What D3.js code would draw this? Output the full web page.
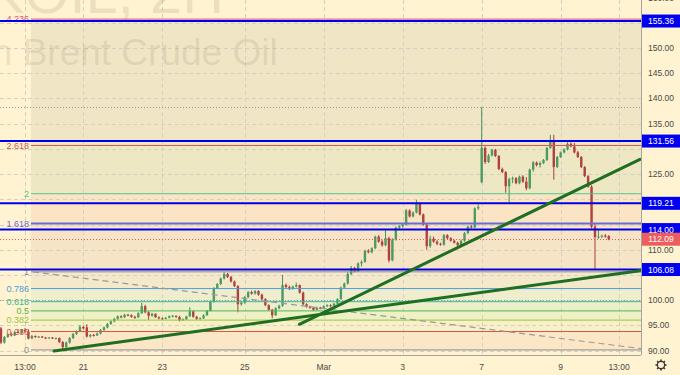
<!DOCTYPE html>
<html><head><meta charset="utf-8">
<script src="https://cdn.jsdelivr.net/npm/d3@7"></script>
<style>
html,body{margin:0;padding:0;background:#fff3d1;}
svg{display:block;font-family:"Liberation Sans",Arial,sans-serif;}
</style></head>
<body><svg id="chart" width="680" height="375"></svg>
<script>
// ---- data ----
const opens=[94.4,91.6,92.7,93.2,93.0,93.7,93.5,94.1,93.8,92.4,
92.9,92.7,92.8,92.6,92.5,92.6,92.4,92.5,91.7,90.7,
91.6,92.5,93.3,93.8,94.7,94.6,92.8,93.1,93.0,93.4,
94.1,94.6,95.3,95.8,96.3,96.8,96.6,97.1,97.0,96.7,
96.6,97.4,98.8,97.6,96.9,97.3,96.6,96.4,96.3,96.5,
96.8,96.9,96.7,96.0,96.2,96.8,97.8,96.7,96.3,96.4,
97.0,97.9,99.7,102.4,103.2,104.3,105.2,104.6,103.7,102.8,
99.2,99.5,100.6,101.6,101.3,101.8,101.1,100.2,99.0,98.1,
97.0,98.4,98.9,103.0,102.6,102.2,102.7,103.0,101.5,99.2,
98.7,98.5,98.1,98.5,98.4,98.8,99.0,98.9,99.3,100.2,
102.5,103.3,105.2,106.4,105.7,107.3,107.6,109.8,109.5,110.3,
112.6,111.6,110.9,112.3,107.9,112.0,114.4,114.7,115.0,117.8,
116.6,117.4,119.2,117.0,115.0,110.7,112.2,111.6,111.2,111.0,
112.9,112.3,111.8,111.4,110.9,111.8,113.3,114.6,114.4,118.2,
123.4,130.2,127.4,128.7,129.8,128.6,126.0,125.4,122.6,124.0,
124.2,123.2,124.5,123.5,122.2,125.9,127.3,126.8,127.2,127.8,
130.2,131.4,126.4,128.4,129.3,129.9,131.0,130.5,129.3,128.4,
126.4,124.6,122.5,114.6,112.5,112.6,112.8,112.7];
const highs=[94.7,92.9,93.4,93.6,93.9,94.2,94.3,94.5,94.2,93.1,
93.0,92.9,92.9,92.7,92.7,92.7,92.6,92.6,91.9,91.8,
92.7,93.5,94.0,95.1,94.9,95.2,93.3,93.3,93.6,94.3,
94.8,95.5,96.0,96.5,97.0,97.0,97.3,97.3,97.2,96.9,
97.6,99.5,99.1,97.8,97.5,97.4,96.8,96.6,96.7,97.0,
97.1,97.0,96.9,96.4,96.9,98.6,98.0,96.9,96.6,97.2,
98.0,99.9,102.6,103.4,104.5,105.62,105.4,104.8,103.9,103.0,
99.8,100.8,101.8,101.9,102.0,102.0,101.3,100.4,99.2,98.3,
98.6,99.1,105.0,103.3,102.9,102.9,103.5,103.1,101.7,99.4,
98.9,98.7,98.7,98.7,99.0,99.2,99.2,99.5,100.4,102.7,
103.5,105.6,106.8,106.6,107.5,107.9,110.0,110.1,110.5,112.8,
112.9,112.0,113.9,112.6,112.3,114.6,114.9,115.3,118.1,118.0,
117.6,119.9,119.4,117.2,115.2,112.8,112.6,111.9,111.4,113.1,
113.1,112.5,112.0,111.6,112.0,113.5,114.8,114.9,118.4,119.0,
138.28,130.5,129.0,130.0,130.0,128.8,126.3,125.6,124.3,124.5,
124.4,124.7,124.8,124.4,126.1,127.6,127.5,127.5,128.0,130.4,
132.8,132.8,128.6,129.5,130.1,131.4,131.3,131.2,129.6,128.6,
126.6,124.8,122.8,115.1,113.9,113.0,113.1,112.9];
const lows=[91.3,91.4,92.5,92.8,92.9,93.4,93.3,93.6,92.2,92.3,
92.5,92.5,92.5,92.3,92.4,92.3,92.2,91.5,90.13,90.5,
91.4,92.3,93.1,93.7,94.2,92.6,92.6,92.8,92.9,93.2,
93.9,94.4,95.1,95.6,96.1,96.4,96.5,96.8,96.5,96.3,
96.5,97.3,97.4,96.1,96.7,96.5,96.2,96.1,96.2,96.4,
96.6,96.5,95.8,95.9,96.1,96.7,96.5,96.1,96.2,96.3,
96.9,97.8,99.5,102.2,103.0,104.1,104.4,103.5,102.6,97.6,
98.9,99.3,100.4,101.1,101.1,100.9,100.0,98.8,97.9,96.4,
96.9,98.2,98.7,102.4,102.0,102.1,102.5,101.3,99.0,98.5,
98.3,97.9,98.0,98.2,98.3,98.6,98.6,98.8,99.2,100.1,
102.3,103.1,105.0,105.5,105.6,106.7,107.4,109.3,109.3,110.1,
111.4,110.6,110.7,107.5,107.7,111.8,114.1,114.4,114.8,116.4,
116.4,117.2,116.8,114.8,110.0,110.4,111.4,110.9,110.8,110.8,
112.1,111.6,111.2,110.6,110.8,111.6,113.1,114.2,114.3,117.9,
123.2,127.0,127.2,128.5,128.4,125.8,125.2,121.3,119.3,123.2,
123.0,123.0,123.3,121.8,122.0,125.5,126.5,126.3,127.0,127.6,
130.0,123.9,126.2,128.2,129.1,129.7,130.3,129.1,128.2,126.2,
124.4,122.3,114.2,106.1,112.2,112.3,112.4,111.9];
const closes=[91.6,92.7,93.2,93.0,93.7,93.5,94.1,93.8,92.4,92.9,
92.7,92.8,92.6,92.5,92.6,92.4,92.5,91.7,90.7,91.6,
92.5,93.3,93.8,94.7,94.4,92.8,93.1,93.0,93.4,94.1,
94.6,95.3,95.8,96.3,96.8,96.6,97.1,97.0,96.7,96.6,
97.4,98.8,97.6,96.9,97.3,96.6,96.4,96.3,96.5,96.8,
96.9,96.7,96.0,96.2,96.8,97.8,96.7,96.3,96.4,97.0,
97.9,99.7,102.4,103.2,104.3,105.2,104.6,103.7,102.8,99.2,
99.5,100.6,101.6,101.3,101.8,101.1,100.2,99.0,98.1,97.0,
98.4,98.9,103.0,102.6,102.2,102.7,103.0,101.5,99.2,98.7,
98.5,98.1,98.5,98.4,98.8,99.0,98.9,99.3,100.2,102.5,
103.3,105.2,106.4,105.7,107.3,107.6,109.8,109.5,110.3,112.6,
111.6,110.9,112.3,107.9,112.0,114.4,114.7,115.0,117.8,116.6,
117.4,119.2,117.0,115.0,110.7,112.2,111.6,111.2,111.0,112.9,
112.3,111.8,111.4,110.9,111.8,113.3,114.6,114.4,118.2,118.5,
130.2,127.4,128.7,129.8,128.6,126.0,125.4,122.6,124.0,124.2,
123.2,124.5,123.5,122.2,125.9,127.3,126.8,127.2,127.8,130.2,
131.4,126.4,128.4,129.3,129.9,131.0,130.5,129.3,128.4,126.4,
124.6,122.5,114.6,112.5,112.6,112.8,112.7,112.09];

const tickLabels=["13:00","21","23","25","Mar","3","7","9","13:00"];
const tickBars=[7,24,47,71,94,117,140,163,180];
const priceTicks=[90,95,100,105,110,115,120,125,130,135,140,145,150,155,160];
const levelPrices=[155.36,131.56,119.21,114.00,106.08];
const lastPrice=112.09;
const highMark=138.28;
const roundMark=100.00;
const fibRatios=[0,0.236,0.382,0.5,0.618,0.786,1,1.618,2,2.618,4.236];
const fibLabels=["0","0.236","0.382","0.5","0.618","0.786","1","1.618","2","2.618","4.236"];
const fibLow=90.13, fibHigh=105.62, fibStartBar=8.75;
const trendA=[[15.45,89.93],[186.1,105.85]];
const trendB=[[86.9,95.22],[186.1,127.94]];
const fibTrend=[[9.33,105.62],[186.4,90.40]];
const wmLine1="UKOIL, 2H";
const wmLine2="CFDs on Brent Crude Oil";

// ---- styles ----
const fibColors=["#8c8c8c","#d9534f","#9cc43e","#55b54a","#2fc08f","#4a9fd8","#8c8c8c","#6b6bd6","#4cc98e","#cf5858","#e0508f"];
const bandFills=["#fbe6c6","#f8f0c6","#eef0c6","#ebefcb","#f0ecce","#f5e9cc","#f5e5c6","#fae4c4","#eee7c3","#f0e5c5"];

const W=680,H=375,plotR=641,plotB=355;
const svg=d3.select("#chart");
const x=d3.scaleLinear().domain([0,186.4]).range([0.96,641]);
const y=d3.scaleLinear().domain([89.13,159.53]).range([plotB,0]);

svg.append("rect").attr("width",W).attr("height",H).attr("fill","#fff3d1");

const plot=svg.append("g");
plot.append("clipPath").attr("id","clip").append("rect").attr("width",plotR).attr("height",plotB);
const g=plot.append("g").attr("clip-path","url(#clip)");

// fib bands
const fibPrices=fibRatios.map(r=>fibLow+r*(fibHigh-fibLow));
const fx0=x(fibStartBar);
for(let k=0;k<fibRatios.length-1;k++){
  g.append("rect").attr("x",fx0).attr("width",plotR-fx0)
   .attr("y",y(fibPrices[k+1])).attr("height",y(fibPrices[k])-y(fibPrices[k+1]))
   .attr("fill",bandFills[k]);
}

// grid
g.selectAll(".hg").data(priceTicks).enter().append("line")
 .attr("x1",0).attr("x2",plotR).attr("y1",d=>Math.round(y(d))+0.5).attr("y2",d=>Math.round(y(d))+0.5)
 .attr("stroke","#d4d0c2").attr("stroke-dasharray","4,3");
g.selectAll(".vg").data(tickBars).enter().append("line")
 .attr("y1",0).attr("y2",plotB).attr("x1",d=>Math.round(x(d))+0.5).attr("x2",d=>Math.round(x(d))+0.5)
 .attr("stroke","#d4d0c2").attr("stroke-dasharray","4,3");

// watermark
g.append("text").attr("x",84).attr("y",13).attr("text-anchor","middle")
 .attr("font-size",58).attr("fill","rgba(110,95,60,0.13)").text(wmLine1);
g.append("text").attr("x",72).attr("y",65).attr("text-anchor","middle")
 .attr("font-size",37).attr("fill","rgba(110,95,60,0.13)").text(wmLine2);

// dotted lines
[[highMark,"#9a9a9a"],[roundMark,"#9a9a9a"]].forEach(([p,c])=>{
  g.append("line").attr("x1",0).attr("x2",plotR).attr("y1",Math.round(y(p))+0.5).attr("y2",Math.round(y(p))+0.5)
   .attr("stroke",c).attr("stroke-dasharray","1,2");
});

// candles
const idx=d3.range(opens.length);
const bw=2.4;
g.selectAll(".wick").data(idx).enter().append("line")
 .attr("x1",i=>x(i)).attr("x2",i=>x(i)).attr("y1",i=>y(highs[i])).attr("y2",i=>y(lows[i]))
 .attr("stroke",i=>closes[i]>=opens[i]?"#4a8f5c":"#a3403c").attr("stroke-width",1);
g.selectAll(".body").data(idx).enter().append("rect")
 .attr("x",i=>x(i)-bw/2).attr("width",bw)
 .attr("y",i=>y(Math.max(opens[i],closes[i])))
 .attr("height",i=>Math.max(1,Math.abs(y(opens[i])-y(closes[i]))))
 .attr("fill",i=>closes[i]>=opens[i]?"#4d9a62":"#b0413e");

// last price dotted
g.append("line").attr("x1",0).attr("x2",plotR).attr("y1",Math.round(y(lastPrice))+0.5).attr("y2",Math.round(y(lastPrice))+0.5)
 .attr("stroke","#ef5350").attr("stroke-dasharray","1,2");

// fib lines + labels
fibPrices.forEach((p,k)=>{
  g.append("line").attr("x1",fx0).attr("x2",plotR).attr("y1",y(p)).attr("y2",y(p))
   .attr("stroke",fibColors[k]).attr("stroke-width",k===7?2:1);
  g.append("text").attr("x",fx0-2).attr("y",y(p)).attr("dy","0.35em").attr("text-anchor","end")
   .attr("font-size",9).attr("fill",fibColors[k]).text(fibLabels[k]);
});
// fib trend dashed
g.append("line").attr("x1",x(fibTrend[0][0])).attr("y1",y(fibTrend[0][1]))
 .attr("x2",x(fibTrend[1][0])).attr("y2",y(fibTrend[1][1]))
 .attr("stroke","#9a9a9a").attr("stroke-width",1.2).attr("stroke-dasharray","6,4");

// blue horizontal levels
g.selectAll(".lvl").data(levelPrices).enter().append("line")
 .attr("x1",0).attr("x2",plotR).attr("y1",d=>y(d)).attr("y2",d=>y(d))
 .attr("stroke","#0000e6").attr("stroke-width",2);

// trend lines
[trendA,trendB].forEach(t=>{
  g.append("line").attr("x1",x(t[0][0])).attr("y1",y(t[0][1])).attr("x2",x(t[1][0])).attr("y2",y(t[1][1]))
   .attr("stroke","#1f6e22").attr("stroke-width",3).attr("stroke-linecap","round");
});

// axes lines
svg.append("line").attr("x1",plotR+0.5).attr("x2",plotR+0.5).attr("y1",0).attr("y2",plotB).attr("stroke","#a6a49a");
svg.append("line").attr("x1",0).attr("x2",plotR).attr("y1",plotB+0.5).attr("y2",plotB+0.5).attr("stroke","#a6a49a");

// price axis labels (those covered by a level box are hidden, as in the reference)
const boxPrices=levelPrices.concat([lastPrice]);
const visibleTicks=priceTicks.filter(t=>boxPrices.every(b=>Math.abs(y(t)-y(b))>9));
svg.selectAll(".pt").data(visibleTicks).enter().append("text")
 .attr("x",648).attr("y",d=>y(d)).attr("dy","0.35em").attr("font-size",8.5).attr("fill","#4a4a4a")
 .text(d=>d3.format(".2f")(d));

// level boxes
levelPrices.forEach(p=>{
  svg.append("rect").attr("x",642).attr("width",38).attr("y",y(p)-6.5).attr("height",13).attr("fill","#0000f0");
  svg.append("text").attr("x",661).attr("y",y(p)).attr("dy","0.36em").attr("text-anchor","middle")
   .attr("font-size",8.5).attr("fill","#ffffff").text(d3.format(".2f")(p));
});
svg.append("rect").attr("x",642).attr("width",38).attr("y",y(lastPrice)-6.5).attr("height",13).attr("fill","#ee5d5d");
svg.append("text").attr("x",661).attr("y",y(lastPrice)).attr("dy","0.36em").attr("text-anchor","middle")
 .attr("font-size",8.5).attr("fill","#ffffff").text(d3.format(".2f")(lastPrice));

// time axis labels
svg.selectAll(".tl").data(tickBars).enter().append("text")
 .attr("x",d=>x(d)).attr("y",367).attr("dy","0.35em").attr("text-anchor","middle")
 .attr("font-size",8.5).attr("fill","#4a4a4a").text((d,i)=>tickLabels[i]);

// gear icon
const gear=svg.append("g").attr("transform","translate(661,365)");
d3.range(8).forEach(k=>{
  const a=k*Math.PI/4;
  gear.append("line").attr("x1",Math.cos(a)*3.5).attr("y1",Math.sin(a)*3.5)
   .attr("x2",Math.cos(a)*5.5).attr("y2",Math.sin(a)*5.5).attr("stroke","#333").attr("stroke-width",1.6);
});
gear.append("circle").attr("r",3.6).attr("fill","#fff3d1").attr("stroke","#333").attr("stroke-width",1.2);
</script></body></html>
